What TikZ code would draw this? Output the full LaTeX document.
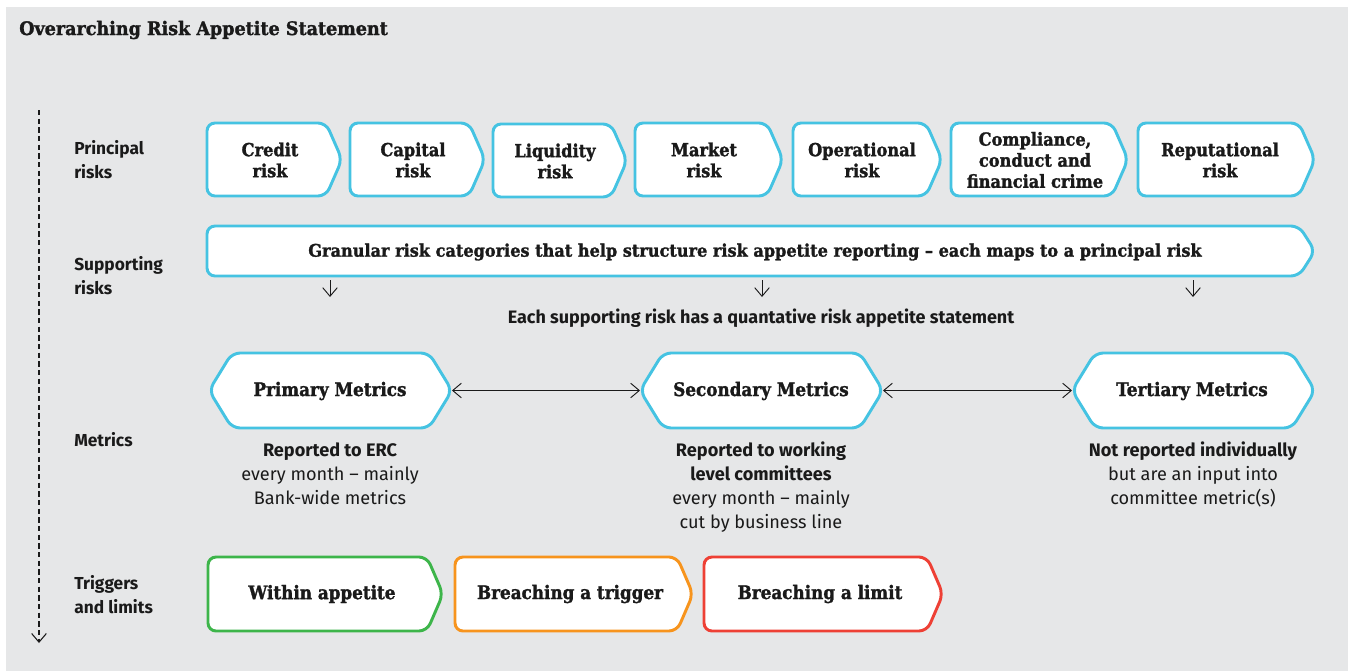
\documentclass[tikz,border=0pt]{standalone}
\usepackage{fontspec}
\setmainfont{Fira Sans}
\newfontfamily\slab{DejaVu Serif Bold}[FakeStretch=0.9, FakeBold=1.5]
\newfontfamily\slabw{DejaVu Serif Bold}[FakeStretch=0.93, FakeBold=1.5]
\newfontfamily\slabt{DejaVu Serif Bold}[FakeStretch=0.94, FakeBold=1.5]
\usetikzlibrary{arrows.meta}
\definecolor{bg}{HTML}{E6E7E8}
\definecolor{cy}{HTML}{45C3E2}
\definecolor{gr}{HTML}{3DB54A}
\definecolor{og}{HTML}{F7941D}
\definecolor{rd}{HTML}{EE4035}
\definecolor{ink}{HTML}{1A1A1A}
\newcommand\chev[5]{%
  \draw[shp, draw=#1] (#2,#4) -- ({#3-16},#4) -- (#3,{(#4+#5)/2}) -- ({#3-16},#5) -- (#2,#5) -- cycle;}
\newcommand\hexa[5]{%
  \draw[shp, draw=#1] (#2,{(#4+#5)/2}) -- ({#2+23},#4) -- ({#3-23},#4) -- (#3,{(#4+#5)/2}) -- ({#3-23},#5) -- ({#2+23},#5) -- cycle;}
\begin{document}
\begin{tikzpicture}[x=0.75pt,y=-0.75pt,
  boxtxt/.style={font=\slab\fontsize{13.5}{15.8}\selectfont, align=center, text=ink, inner sep=0pt},
  lab/.style={font=\bfseries\fontsize{13}{18}\selectfont, align=left, anchor=west, text=ink, inner sep=0pt},
  captxt/.style={font=\fontsize{13.6}{18}\selectfont, align=center, text=ink, inner sep=0pt, anchor=north},
  shp/.style={line width=2.2pt, fill=white, rounded corners=6pt, line join=round},
  arr/.style={-{Straight Barb[length=6.5pt,width=11pt]}, line width=0.7pt, draw=ink},
  darr/.style={{Straight Barb[length=6.5pt,width=11pt]}-{Straight Barb[length=6.5pt,width=11pt]}, line width=0.7pt, draw=ink}
]
\useasboundingbox (0,0) rectangle (1348,671);
\fill[bg] (6,7) rectangle (1348,671);

\node[boxtxt, font=\slabt\fontsize{14}{16}\selectfont, anchor=west] (title) at (19,30) {Overarching Risk Appetite Statement};

% timeline
\coordinate (tl0) at (39,110);
\coordinate (tl1) at (39,643);
\draw[arr, dash pattern=on 4pt off 2.5pt, line width=0.8pt] (tl0) -- (tl1);

% labels
\node[lab] (lp) at (74,160) {Principal\\risks};
\node[lab] (ls) at (74,276) {Supporting\\risks};
\node[lab] (lm) at (74,440) {Metrics};
\node[lab] (lt) at (74,595) {Triggers\\and limits};

% principal risks
\chev{cy}{207}{342}{123}{196}
\chev{cy}{350}{485}{123}{196}
\chev{cy}{493}{627}{124}{197}
\chev{cy}{635}{783}{123}{196}
\chev{cy}{793}{942}{123}{196}
\chev{cy}{951}{1128}{123}{196}
\chev{cy}{1138}{1315}{123}{196}
\node[boxtxt] (credit) at (270,160) {Credit\\risk};
\node[boxtxt] (capital) at (413,160) {Capital\\risk};
\node[boxtxt] (liq) at (555,161) {Liquidity\\risk};
\node[boxtxt] (market) at (704,160) {Market\\risk};
\node[boxtxt] (oper) at (862,160) {Operational\\risk};
\node[boxtxt] (comp) at (1035,160) {Compliance,\\conduct and\\financial crime};
\node[boxtxt] (rep) at (1220,160) {Reputational\\risk};

% supporting risks
\chev{cy}{207}{1315}{226}{276}
\node[boxtxt, font=\slabw\fontsize{13}{15.5}\selectfont] (supp) at (755,252) {Granular risk categories that help structure risk appetite reporting – each maps to a principal risk};

\coordinate (d1s) at (330,280); \coordinate (d1e) at (330,297);
\coordinate (d2s) at (762,280); \coordinate (d2e) at (762,297);
\coordinate (d3s) at (1193,280); \coordinate (d3e) at (1193,297);
\draw[arr] (d1s) -- (d1e);
\draw[arr] (d2s) -- (d2e);
\draw[arr] (d3s) -- (d3e);

\node[font=\bfseries\fontsize{13.5}{15}\selectfont, text=ink, inner sep=0pt] (each) at (761,318) {Each supporting risk has a quantative risk appetite statement};

% metrics
\hexa{cy}{209}{452}{353}{428}
\hexa{cy}{640}{883}{353}{428}
\hexa{cy}{1072}{1315}{353}{428}
\coordinate (pmR) at (452,390.5);
\coordinate (smL) at (640,390.5);
\coordinate (smR) at (883,390.5);
\coordinate (tmL) at (1072,390.5);
\node[boxtxt, font=\slab\fontsize{14}{16}\selectfont] (pm) at (330,391) {Primary Metrics};
\node[boxtxt, font=\slab\fontsize{14}{16}\selectfont] (sm) at (761,391) {Secondary Metrics};
\node[boxtxt, font=\slab\fontsize{14}{16}\selectfont] (tm) at (1192,391) {Tertiary Metrics};
\draw[darr] (pmR) -- (smL);
\draw[darr] (smR) -- (tmL);

\node[captxt] (pc) at (330,442) {\textbf{Reported to ERC}\\every month – mainly\\Bank-wide metrics};
\node[captxt] (sc) at (761,442) {\textbf{Reported to working}\\\textbf{level committees}\\every month – mainly\\cut by business line};
\node[captxt] (tc) at (1193,442) {\textbf{Not reported individually}\\but are an input into\\committee metric(s)};

% triggers and limits
\chev{gr}{208}{443}{557}{631}
\chev{og}{455}{693}{557}{631}
\chev{rd}{704}{943}{557}{631}
\node[boxtxt, font=\slab\fontsize{14}{16}\selectfont] (within) at (322,594) {Within appetite};
\node[boxtxt, font=\slab\fontsize{14}{16}\selectfont] (btrig) at (570,594) {Breaching a trigger};
\node[boxtxt, font=\slab\fontsize{14}{16}\selectfont] (blim) at (820,594) {Breaching a limit};
\end{tikzpicture}
\end{document}
